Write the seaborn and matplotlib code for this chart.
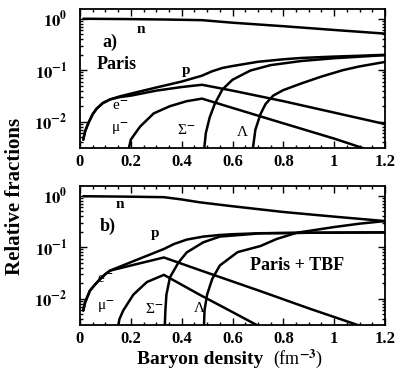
import numpy as np
import pandas as pd
import matplotlib
matplotlib.use("Agg")
import matplotlib.pyplot as plt
import seaborn as sns
from matplotlib.ticker import MultipleLocator, LogLocator, FuncFormatter, NullFormatter

# ---- a) Paris potential: particle fractions vs baryon density (fm^-3) ----
n_a_x = [0.013, 0.2, 0.35, 0.48, 0.6, 0.8, 1.0, 1.2]
n_a_y = [0.99, 0.975, 0.955, 0.93, 0.83, 0.71, 0.60, 0.51]

p_a_x = [0.013, 0.02, 0.033, 0.05, 0.066, 0.09, 0.118, 0.157, 0.2, 0.3, 0.4, 0.48,
         0.52, 0.56, 0.6, 0.7, 0.8, 0.87, 1.0, 1.1, 1.2]
p_a_y = [0.0045, 0.0065, 0.0094, 0.014, 0.018, 0.023, 0.027, 0.031, 0.035, 0.046, 0.060, 0.078,
         0.095, 0.110, 0.120, 0.145, 0.162, 0.172, 0.183, 0.190, 0.198]

e_a_x = [0.013, 0.02, 0.033, 0.05, 0.066, 0.09, 0.118, 0.157, 0.2, 0.3, 0.4, 0.48,
         0.6, 0.8, 1.0, 1.2]
e_a_y = [0.0045, 0.0065, 0.0094, 0.014, 0.018, 0.023, 0.027, 0.030, 0.032, 0.040, 0.047, 0.052,
         0.040, 0.025, 0.015, 0.009]

mu_a_x = [0.188, 0.2, 0.236, 0.29, 0.354, 0.42, 0.48, 0.6, 0.8, 1.0, 1.12]
mu_a_y = [0.0025, 0.0045, 0.008, 0.0145, 0.020, 0.025, 0.028, 0.0185, 0.0093, 0.0047, 0.003]

sig_a_x = [0.487, 0.495, 0.51, 0.53, 0.56, 0.6, 0.67, 0.75, 0.87, 1.0, 1.1, 1.2]
sig_a_y = [0.0025, 0.006, 0.012, 0.022, 0.042, 0.065, 0.098, 0.125, 0.150, 0.170, 0.182, 0.195]

lam_a_x = [0.678, 0.69, 0.71, 0.73, 0.76, 0.8, 0.87, 0.95, 1.035, 1.1, 1.2]
lam_a_y = [0.0025, 0.007, 0.014, 0.022, 0.032, 0.041, 0.055, 0.075, 0.100, 0.118, 0.144]

# ---- b) Paris + three-body forces ----
n_b_x = [0.013, 0.2, 0.33, 0.4, 0.47, 0.6, 0.8, 1.0, 1.2]
n_b_y = [0.97, 0.95, 0.93, 0.84, 0.74, 0.62, 0.48, 0.39, 0.32]

p_b_x = [0.013, 0.02, 0.039, 0.06, 0.079, 0.1, 0.118, 0.2, 0.33, 0.37, 0.42, 0.485,
         0.55, 0.6, 0.71, 0.9, 1.2]
p_b_y = [0.0059, 0.0085, 0.0143, 0.019, 0.024, 0.030, 0.035, 0.051, 0.092, 0.115, 0.140, 0.160,
         0.172, 0.178, 0.186, 0.190, 0.193]

e_b_x = [0.013, 0.02, 0.039, 0.06, 0.079, 0.1, 0.118, 0.2, 0.33, 0.47, 0.71, 0.9, 1.1]
e_b_y = [0.0059, 0.0085, 0.0143, 0.019, 0.024, 0.030, 0.035, 0.044, 0.063, 0.036, 0.014, 0.0065, 0.003]

mu_b_x = [0.148, 0.155, 0.17, 0.21, 0.263, 0.33, 0.47, 0.6, 0.70]
mu_b_y = [0.0025, 0.004, 0.0059, 0.012, 0.021, 0.029, 0.012, 0.0055, 0.003]

sig_b_x = [0.333, 0.336, 0.34, 0.354, 0.387, 0.42, 0.485, 0.55, 0.71, 0.9, 1.2]
sig_b_y = [0.0025, 0.006, 0.012, 0.026, 0.050, 0.079, 0.124, 0.160, 0.185, 0.190, 0.193]

lam_b_x = [0.487, 0.49, 0.5, 0.52, 0.55, 0.62, 0.71, 0.774, 0.853, 1.0, 1.1, 1.2]
lam_b_y = [0.0025, 0.006, 0.012, 0.024, 0.044, 0.080, 0.105, 0.144, 0.190, 0.245, 0.285, 0.320]

sns.set_theme(style="ticks")
plt.rcParams["font.family"] = ["Liberation Serif", "DejaVu Serif"]
plt.rcParams["font.weight"] = "bold"
plt.rcParams["mathtext.fontset"] = "stix"
for k in ["axes.edgecolor", "xtick.color", "ytick.color", "text.color", "axes.labelcolor"]:
    plt.rcParams[k] = "black"

fig = plt.figure(figsize=(3.97, 3.70), dpi=100)
ax_a = fig.add_axes([0.2015, 0.600, 0.7683, 0.3757])
ax_b = fig.add_axes([0.2015, 0.1216, 0.7683, 0.3757])


def draw_panel(ax, curves):
    for x, y in curves:
        df = pd.DataFrame({"density": x, "fraction": y})
        sns.lineplot(data=df, x="density", y="fraction", ax=ax, color="black",
                     lw=1.8, estimator=None, sort=False)
    ax.set_yscale("log")
    ax.set_xlim(0, 1.2)
    ax.set_ylim(10 ** -2.51, 10 ** 0.185)
    ax.set_xlabel("")
    ax.set_ylabel("")
    ax.xaxis.set_major_locator(MultipleLocator(0.2))
    ax.xaxis.set_minor_locator(MultipleLocator(0.05))
    ax.xaxis.set_major_formatter(FuncFormatter(lambda v, pos: "%g" % round(v, 2)))
    ax.yaxis.set_major_locator(LogLocator(base=10))
    ax.yaxis.set_minor_locator(LogLocator(base=10, subs=np.arange(2, 10)))
    ax.yaxis.set_minor_formatter(NullFormatter())
    ax.yaxis.set_major_formatter(
        FuncFormatter(lambda v, pos: r"$\mathbf{10^{%d}}$" % int(round(np.log10(v)))))
    ax.tick_params(which="both", direction="in", top=True, right=True, width=1.0)
    ax.tick_params(which="major", length=5, labelsize=12)
    ax.tick_params(axis="x", which="major", pad=4)
    ax.tick_params(axis="y", which="major", pad=9)
    ax.tick_params(which="minor", length=2.5)
    for s in ax.spines.values():
        s.set_linewidth(1.3)


draw_panel(ax_a, [(n_a_x, n_a_y), (p_a_x, p_a_y), (e_a_x, e_a_y), (mu_a_x, mu_a_y),
                  (sig_a_x, sig_a_y), (lam_a_x, lam_a_y)])
draw_panel(ax_b, [(n_b_x, n_b_y), (p_b_x, p_b_y), (e_b_x, e_b_y), (mu_b_x, mu_b_y),
                  (sig_b_x, sig_b_y), (lam_b_x, lam_b_y)])

small = dict(ha="center", va="center", fontsize=11)
# panel a annotations
ax_a.text(0.24, 0.61, "n", **small)
ax_a.text(0.417, 0.10, "p", **small)
ax_a.text(0.157, 0.0195, "e$^{-}$", fontweight="normal", **small)
ax_a.text(0.157, 0.0071, "μ$^{-}$", fontweight="normal", **small)
ax_a.text(0.417, 0.0068, "Σ$^{-}$", fontweight="normal", **small)
ax_a.text(0.64, 0.0061, "Λ", fontweight="normal", **small)
ax_a.text(0.118, 0.34, "a)", ha="center", va="center", fontsize=13)
ax_a.text(0.146, 0.128, "Paris", ha="center", va="center", fontsize=13)

# panel b annotations
ax_b.text(0.157, 0.67, "n", **small)
ax_b.text(0.295, 0.18, "p", **small)
ax_b.text(0.10, 0.024, "e$^{-}$", fontweight="normal", **small)
ax_b.text(0.10, 0.0070, "μ$^{-}$", fontweight="normal", **small)
ax_b.text(0.29, 0.0064, "Σ$^{-}$", fontweight="normal", **small)
ax_b.text(0.47, 0.0064, "Λ", fontweight="normal", **small)
ax_b.text(0.11, 0.25, "b)", ha="center", va="center", fontsize=13)
ax_b.text(0.854, 0.044, "Paris + TBF", ha="center", va="center", fontsize=13)

fig.text(0.039, 0.468, "Relative fractions", rotation=90, ha="center", va="center",
         fontsize=15)
fig.text(0.662, 0.016, "Baryon density", ha="right", va="baseline", fontsize=14)
fig.text(0.688, 0.016, "(fm$^{-3}$)", ha="left", va="baseline", fontsize=13,
         fontweight="normal")

fig.savefig("out.png", dpi=100)
